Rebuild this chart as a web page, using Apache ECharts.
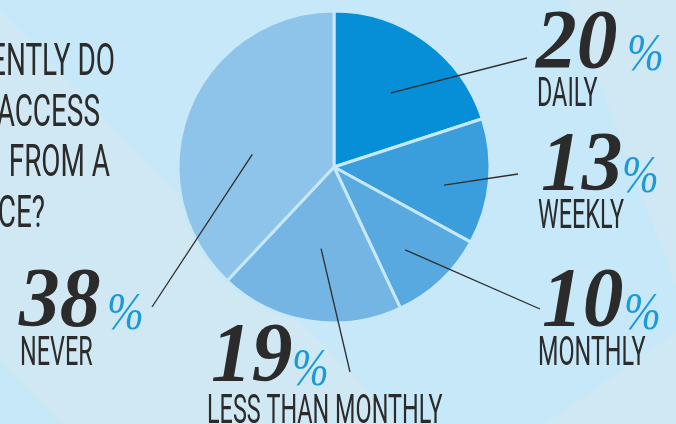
<!DOCTYPE html>
<html>
<head>
<meta charset="utf-8">
<script src="https://cdn.jsdelivr.net/npm/echarts/dist/echarts.min.js"></script>
<style>
html,body{margin:0;padding:0;background:#c6e8f8;}
#chart{width:676px;height:424px;}
</style>
</head>
<body>
<div id="chart"></div>
<script>
// ---- data ----
const categories = ['DAILY', 'WEEKLY', 'MONTHLY', 'LESS THAN MONTHLY', 'NEVER'];
const values = [20, 13, 10, 19, 38];
const questionLines = ['ENTLY DO', 'ACCESS', 'FROM A', 'CE?'];

// ---- layout / style ----
const CENTER = [334, 167];
const RADIUS = 156;
const sliceColors = ['#068fd6', '#3a9edc', '#58a9e0', '#74b5e4', '#8ec4e9'];
const lineAnchor = [[0.6, -1.6], [0.715, -4], [0.7, -2.5], [0.53, 0], [0.53, 12.8]];
const lineEnd = [[527, 58], [518, 174], [540, 309], [350, 372], [152, 307]];
const numPos = [[536, 46], [541, 168], [542, 304], [211, 359.5], [19, 304]];
const pctPos = [[627, 56], [622, 178], [624, 315], [292, 371], [107, 315]];
const namePos = [[537, 95.5], [538, 217.5], [538, 355], [207, 413], [20, 354.5]];
const questionPos = [[115, 64], [100, 114.5], [110, 164.5], [45, 216]];

const total = values.reduce((a, b) => a + b, 0);
let cum = 0;
const mids = values.map(v => { const m = 90 - 360 * (cum + v / 2) / total; cum += v; return m; });

const DARK = '#2b2b2b';
const BLUE = '#1b9ad8';

function txt(x, y, text, opts) {
  return {
    type: 'text', x: x, y: y, scaleX: opts.scaleX || 1, silent: true, z: 10,
    style: {
      text: text, fill: opts.fill || DARK,
      fontSize: opts.fontSize, fontFamily: opts.fontFamily,
      fontWeight: opts.fontWeight || 'normal', fontStyle: opts.fontStyle || 'normal',
      align: opts.align || 'left', textAlign: opts.align || 'left',
      verticalAlign: 'middle', textVerticalAlign: 'middle'
    }
  };
}

const graphics = [
  { type: 'polygon', silent: true, z: -5, shape: { points: [[0, 10], [400, 424], [63, 424], [0, 360]] }, style: { fill: '#d0e8f3' } },
  { type: 'polygon', silent: true, z: -5, shape: { points: [[568, 0], [676, 0], [676, 285]] }, style: { fill: '#d0e8f3' } },
  { type: 'polygon', silent: true, z: -5, shape: { points: [[676, 332], [676, 424], [545, 424]] }, style: { fill: '#d0e8f3' } }
];
questionLines.forEach((q, i) => {
  graphics.push(txt(questionPos[i][0], questionPos[i][1], q,
    { fontSize: 45, fontFamily: 'Roboto', fontWeight: 'normal', scaleX: 0.62, align: 'right' }));
});
categories.forEach((c, i) => {
  graphics.push(txt(numPos[i][0], numPos[i][1], String(values[i]),
    { fontSize: 84, fontFamily: 'Liberation Serif', fontWeight: 'bold', fontStyle: 'italic', scaleX: 0.97 }));
  graphics.push(txt(pctPos[i][0], pctPos[i][1], '%',
    { fontSize: 52, fontFamily: 'Liberation Serif', fontStyle: 'italic', fill: BLUE, scaleX: 0.85 }));
  graphics.push(txt(namePos[i][0], namePos[i][1], c,
    { fontSize: 40, fontFamily: 'Roboto', fontWeight: 'normal', scaleX: 0.585 }));
});

const pieData = categories.map((c, i) => ({ name: c, value: values[i], itemStyle: { color: sliceColors[i] } }));
const lineData = categories.map((c, i) => ({ name: c, value: values[i] }));

const chart = echarts.init(document.getElementById('chart'), null, { renderer: 'canvas' });
chart.setOption({
  animation: false,
  backgroundColor: '#c6e8f8',
  graphic: { elements: graphics },
  series: [{
    type: 'pie',
    center: CENTER,
    radius: RADIUS,
    startAngle: 90,
    clockwise: true,
    silent: true,
    z: 2,
    itemStyle: { borderColor: '#c6e8f8', borderWidth: 3 },
    label: { show: false },
    labelLine: { show: false },
    data: pieData
  }, {
    // same slices, transparent, only to carry the leader lines above the pie
    type: 'pie',
    center: CENTER,
    radius: RADIUS,
    startAngle: 90,
    clockwise: true,
    silent: true,
    z: 6,
    avoidLabelOverlap: false,
    itemStyle: { color: 'rgba(0,0,0,0)', borderWidth: 0 },
    label: { show: true, formatter: ' ', color: 'transparent', fontSize: 1, position: 'outside' },
    labelLine: { show: true, length: 5, length2: 5, lineStyle: { color: '#2d2d2d', width: 1.3 } },
    labelLayout: function (params) {
      const i = params.dataIndex;
      const a = (mids[i] + lineAnchor[i][1]) * Math.PI / 180;
      const r = RADIUS * lineAnchor[i][0];
      const s = [CENTER[0] + r * Math.cos(a), CENTER[1] - r * Math.sin(a)];
      return { labelLinePoints: [s, lineEnd[i].slice(), lineEnd[i].slice()] };
    },
    data: lineData
  }]
});
</script>
</body>
</html>
